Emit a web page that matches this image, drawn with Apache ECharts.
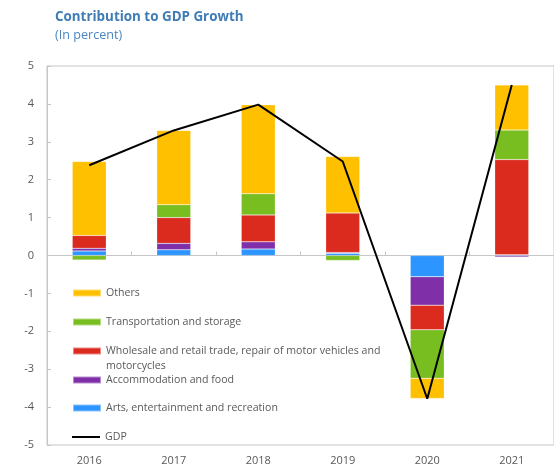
<!DOCTYPE html>
<html>
<head>
<meta charset="utf-8">
<script src="https://cdn.jsdelivr.net/npm/echarts@6/dist/echarts.min.js"></script>
<style>
  html, body { margin: 0; padding: 0; background: #ffffff; }
  #main { width: 554px; height: 472px; }
</style>
</head>
<body>
<div id="main"></div>
<script>
// data (percentage points)
let years = ['2016', '2017', '2018', '2019', '2020', '2021'];
let arts = [0.12, 0.15, 0.17, 0.06, -0.56, 0.02];
let accommodation = [0.07, 0.17, 0.19, 0.02, -0.75, -0.04];
let wholesale = [0.34, 0.68, 0.71, 1.04, -0.65, 2.51];
let transport = [-0.12, 0.34, 0.56, -0.13, -1.28, 0.78];
let others = [1.95, 1.96, 2.35, 1.49, -0.53, 1.19];
let gdp = [2.38, 3.30, 3.98, 2.48, -3.78, 4.50];

let font = '"Open Sans", "Noto Sans", sans-serif';
let grey = '#595959';
let lineGrey = '#c6c6c6';

function barSeries(name, values, color) {
    return {
        name: name,
        type: 'bar',
        stack: 'total',
        barWidth: 34,
        data: values,
        itemStyle: {
            color: color,
            borderColor: 'rgba(255,255,255,0.45)',
            borderWidth: 0.5
        }
    };
}

function legendAt(name, top, lineHeight) {
    let isLine = name === 'GDP';
    return {
        data: [name],
        left: 72,
        top: top,
        orient: 'vertical',
        itemWidth: 28,
        itemHeight: isLine ? 2 : 7,
        icon: 'rect',
        padding: 0,
        textStyle: {
            color: grey,
            fontSize: 10.6,
            fontFamily: font,
            lineHeight: lineHeight || 14
        },
        // long name wraps; a blank first line keeps line one level with the icon
        formatter: function (n) {
            if (n.indexOf('motorcycles') > 0) {
                return ' \n' + n.replace(' vehicles and motorcycles', ' vehicles and\nmotorcycles');
            }
            return n;
        },
        selectedMode: false
    };
}

let option = {
    animation: false,
    title: [{
        text: 'Contribution to GDP Growth',
        left: 50,
        top: 6,
        textStyle: {color: '#3f7cb6', fontSize: 13.4, fontWeight: 'bold', fontFamily: font}
    }, {
        text: '(In percent)',
        left: 50,
        top: 24,
        textStyle: {color: '#4a86c2', fontSize: 12.6, fontWeight: 'normal', fontFamily: font}
    }],
    grid: {
        left: 47,
        right: -5,
        top: 66,
        bottom: 27,
        show: true,
        borderColor: lineGrey,
        borderWidth: 1
    },
    legend: [
        legendAt('Others', 286),
        legendAt('Transportation and storage', 315),
        legendAt('Wholesale and retail trade, repair of motor vehicles and motorcycles', 328.5, 15),
        legendAt('Accommodation and food', 373),
        legendAt('Arts, entertainment and recreation', 401),
        legendAt('GDP', 430)
    ],
    xAxis: [{
        type: 'category',
        data: years,
        position: 'bottom',
        axisLine: {show: false, onZero: false},
        axisTick: {show: false},
        axisLabel: {color: grey, fontSize: 11, fontFamily: font, margin: 10}
    }, {
        type: 'category',
        data: years,
        position: 'top',
        axisLine: {show: true, onZero: true, lineStyle: {color: lineGrey}},
        axisTick: {show: true, inside: false, length: 4, lineStyle: {color: lineGrey}},
        axisLabel: {show: false}
    }],
    yAxis: {
        type: 'value',
        min: -5,
        max: 5,
        interval: 1,
        axisLine: {show: true, lineStyle: {color: lineGrey}},
        axisTick: {show: true, inside: true, length: 4, lineStyle: {color: lineGrey}},
        axisLabel: {color: grey, fontSize: 11, fontFamily: font, margin: 13},
        splitLine: {show: false}
    },
    series: [
        barSeries('Arts, entertainment and recreation', arts, '#2c95ff'),
        barSeries('Accommodation and food', accommodation, '#7f30a8'),
        barSeries('Wholesale and retail trade, repair of motor vehicles and motorcycles', wholesale, '#db2a1e'),
        barSeries('Transportation and storage', transport, '#78be21'),
        barSeries('Others', others, '#ffc000'),
        {
            name: 'GDP',
            type: 'line',
            data: gdp,
            symbol: 'none',
            z: 5,
            itemStyle: {color: '#000000'},
            lineStyle: {color: '#000000', width: 2}
        }
    ]
};

let chart = echarts.init(document.getElementById('main'));
chart.setOption(option);
</script>
</body>
</html>
